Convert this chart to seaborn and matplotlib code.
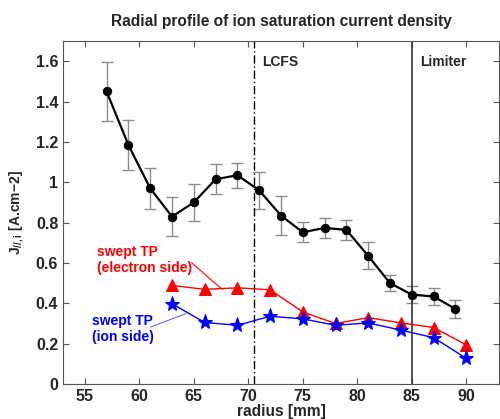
import matplotlib
matplotlib.use("Agg")
import matplotlib.pyplot as plt
import seaborn as sns
import numpy as np
import pandas as pd

# Data
r_black = [57, 59, 61, 63, 65, 67, 69, 71, 73, 75, 77, 79, 81, 83, 85, 87, 89]
j_black = [1.45, 1.185, 0.97, 0.83, 0.90, 1.015, 1.035, 0.96, 0.835, 0.752, 0.774,
           0.764, 0.635, 0.50, 0.443, 0.434, 0.372]
err_black = [0.148, 0.125, 0.10, 0.095, 0.09, 0.075, 0.063, 0.09, 0.095, 0.05, 0.05,
             0.05, 0.067, 0.04, 0.043, 0.04, 0.044]

r_swept = [63, 66, 69, 72, 75, 78, 81, 84, 87, 90]
j_electron = [0.489, 0.469, 0.477, 0.467, 0.357, 0.300, 0.329, 0.303, 0.280, 0.194]
j_ion = [0.398, 0.305, 0.291, 0.336, 0.323, 0.291, 0.303, 0.267, 0.230, 0.127]

x_ticks = [55, 60, 65, 70, 75, 80, 85, 90]
y_ticks = [0, 0.2, 0.4, 0.6, 0.8, 1.0, 1.2, 1.4, 1.6]
y_ticklabels = ["0", "0.2", "0.4", "0.6", "0.8", "1", "1.2", "1.4", "1.6"]

lcfs_r = 70.5
limiter_r = 85

sns.set_style("ticks")
plt.rcParams['font.family'] = ['Liberation Sans', 'DejaVu Sans']
plt.rcParams['font.weight'] = 'bold'
plt.rcParams['mathtext.fontset'] = 'custom'
plt.rcParams['mathtext.rm'] = 'Liberation Sans:bold'
plt.rcParams['mathtext.it'] = 'Liberation Sans:bold'
plt.rcParams['mathtext.bf'] = 'Liberation Sans:bold'

FS = 11.2
FA = 10.0

fig = plt.figure(figsize=(5.0, 4.19), dpi=100)
ax = fig.add_axes([0.126, 0.0835, 0.872, 0.8185])

df_b = pd.DataFrame({"r": r_black, "j": j_black})
df_e = pd.DataFrame({"r": r_swept, "j": j_electron})
df_i = pd.DataFrame({"r": r_swept, "j": j_ion})

ax.errorbar(r_black, j_black, yerr=err_black, fmt="none", ecolor="#8c8c8c",
            elinewidth=1.0, capsize=4, capthick=1.0, zorder=2)
sns.lineplot(data=df_b, x="r", y="j", ax=ax, color="black", lw=1.6,
             marker="o", markersize=6, markeredgecolor="black", zorder=3)
sns.lineplot(data=df_e, x="r", y="j", ax=ax, color="red", lw=1.0,
             marker="^", markersize=8, markeredgecolor="red", zorder=3)
sns.lineplot(data=df_i, x="r", y="j", ax=ax, color="blue", lw=1.0,
             marker="*", markersize=11, markeredgecolor="blue", zorder=3)

ax.axvline(lcfs_r, color="black", lw=1.0, ls=(0, (6, 2, 1, 2)))
ax.axvline(limiter_r, color="#333333", lw=1.2)

ax.text(71.25, 1.575, "LCFS", fontsize=FA, fontweight="bold")
ax.text(85.75, 1.575, "Limiter", fontsize=FA, fontweight="bold")

ax.text(56.1, 0.615, "swept TP\n(electron side)", color="red", fontsize=FA,
        fontweight="bold", ha="left", va="center", ma="left", linespacing=1.15)
ax.annotate("", xy=(67.6, 0.469), xytext=(64.8, 0.601),
            arrowprops=dict(arrowstyle="-", color="red", lw=0.8, shrinkA=0, shrinkB=0))
ax.text(55.65, 0.274, "swept TP\n(ion side)", color="blue", fontsize=FA,
        fontweight="bold", ha="left", va="center", ma="left", linespacing=1.15)
ax.annotate("", xy=(64.3, 0.349), xytext=(61.04, 0.283),
            arrowprops=dict(arrowstyle="-", color="#6a6aff", lw=0.8, shrinkA=0, shrinkB=0))

ax.set_xlim(53, 93)
ax.set_ylim(0, 1.7)
ax.set_xticks(x_ticks)
ax.set_yticks(y_ticks)
ax.set_yticklabels(y_ticklabels)
ax.tick_params(direction="in", top=True, right=True, labelsize=11.5, length=4,
               width=0.8, color="#555555")
for lab in ax.get_xticklabels() + ax.get_yticklabels():
    lab.set_fontweight("bold")
for s in ax.spines.values():
    s.set_visible(True)
    s.set_linewidth(0.8)
    s.set_color("#555555")

ax.set_xlabel("radius [mm]", fontsize=FS, fontweight="bold", labelpad=0)
ax.set_ylabel(r"J$_{//,i}$ [A.cm$-$2]", fontsize=10.0, fontweight="bold", labelpad=7)
ax.set_title("Radial profile of ion saturation current density", fontsize=FS,
             fontweight="bold", pad=11)

fig.savefig("out.png", dpi=100)
